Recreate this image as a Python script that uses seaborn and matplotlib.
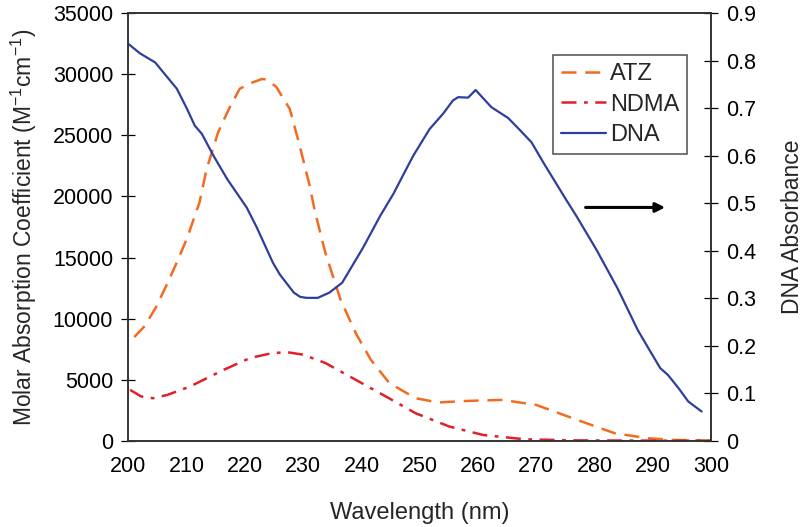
import numpy as np
import pandas as pd
import matplotlib
matplotlib.use('Agg')
import matplotlib.pyplot as plt
import seaborn as sns

# wavelength (nm) / molar absorption coefficient
atz_wl = [201, 202.8, 204.8, 206.7, 208.4, 210.0, 212.2, 213.4, 215.4, 217.4, 219.1, 220.9,
          222.9, 223.7, 225.4, 226.6, 227.7, 229.4, 231.1, 232.0, 233.8, 236.4, 239.0, 241.6,
          244.8, 249.3, 253.2, 258.3, 264.2, 270.0, 273.9, 279.0, 283.5, 289.3, 293.8, 300]
atz_eps = [8500, 9400, 11000, 12900, 14700, 16500, 19500, 22200, 25250, 27300, 28800, 29250,
           29600, 29570, 28950, 28000, 27150, 24150, 20900, 18800, 15400, 11570, 8840, 6650,
           4730, 3500, 3150, 3280, 3360, 2950, 2270, 1390, 630, 220, 80, 50]

ndma_wl = [200.3, 202.2, 204.2, 206.7, 210.6, 216.4, 220.9, 224.8, 227.4, 230.0, 233.8, 239.0,
           244.2, 249.3, 255.1, 260.9, 268.0, 277, 290, 300]
ndma_eps = [4180, 3640, 3500, 3770, 4460, 5830, 6790, 7200, 7250, 7060, 6380, 5010,
            3640, 2270, 1180, 490, 140, 50, 30, 20]

dna_wl = [200, 202, 204.6, 206, 208.3, 210, 211.4, 212.6, 214.6, 217, 220.3, 222, 224.8, 226,
          228.4, 229.5, 230.6, 232.5, 234.5, 236.7, 238.5, 240.3, 243.2, 245.5, 247.4, 248.9,
          251.7, 254, 255.7, 256.6, 258.3, 259.6, 262.3, 265.2, 267.5, 269.2, 271.2, 273,
          275.1, 276.9, 280.3, 284, 287.4, 289.5, 291.3, 292.6, 294.5, 296.1, 298.4]
dna_abs = [0.835, 0.815, 0.796, 0.775, 0.741, 0.70, 0.663, 0.646, 0.600, 0.55, 0.491, 0.45,
           0.375, 0.35, 0.312, 0.303, 0.301, 0.301, 0.312, 0.333, 0.37, 0.407, 0.473, 0.52,
           0.565, 0.600, 0.656, 0.688, 0.716, 0.723, 0.722, 0.738, 0.702, 0.679, 0.65, 0.628,
           0.586, 0.55, 0.508, 0.473, 0.403, 0.32, 0.234, 0.19, 0.153, 0.139, 0.11, 0.083, 0.062]

sns.set_style('white')
plt.rcParams['font.family'] = ['Liberation Sans', 'DejaVu Sans']
plt.rcParams['mathtext.default'] = 'regular'

df_atz = pd.DataFrame({'wl': atz_wl, 'val': atz_eps})
df_ndma = pd.DataFrame({'wl': ndma_wl, 'val': ndma_eps})
df_dna = pd.DataFrame({'wl': dna_wl, 'val': dna_abs})

fig = plt.figure(figsize=(8.03, 5.27), dpi=100)
ax = fig.add_axes([128.4 / 803, 1 - 441 / 527, (711 - 128.4) / 803, (441 - 13) / 527])
ax2 = ax.twinx()

sns.lineplot(data=df_atz, x='wl', y='val', ax=ax, color='#F26B21', lw=1.8,
             linestyle=(0, (6, 3.5)), label='ATZ')
sns.lineplot(data=df_ndma, x='wl', y='val', ax=ax, color='#E0202A', lw=1.8,
             linestyle=(0, (6, 3, 1.5, 3)), label='NDMA')
sns.lineplot(data=df_dna, x='wl', y='val', ax=ax2, color='#2E3F9B', lw=1.6, label='DNA')

ax.set_xlim(200, 300)
ax.set_ylim(0, 35000)
ax2.set_ylim(0, 0.9)
ax.set_xticks(np.arange(200, 301, 10))
ax.set_yticks(np.arange(0, 35001, 5000))
ax2.set_yticks(np.arange(0, 0.91, 0.1))
ax2.set_yticklabels(['0'] + [f'{v:.1f}' for v in np.arange(0.1, 0.91, 0.1)])

for a in (ax, ax2):
    a.tick_params(direction='inout', length=10, width=0.9, labelsize=15.5, colors='black', pad=6)
    for s in a.spines.values():
        s.set_color('#333333')
        s.set_linewidth(1.2)

ax.set_xlabel('Wavelength (nm)', fontsize=17, labelpad=18)
ax.set_ylabel('Molar Absorption Coefficient (M$^{-1}$cm$^{-1}$)', fontsize=16.5, labelpad=10)
ax2.set_ylabel('DNA Absorbance', fontsize=16.5, labelpad=18)

# arrow pointing to the right axis
ax.annotate('', xy=(292.6, 19100), xytext=(278.0, 19100),
            arrowprops=dict(arrowstyle='-|>', color='black', lw=2.2, mutation_scale=14))

h1, l1 = ax.get_legend_handles_labels()
h2, l2 = ax2.get_legend_handles_labels()
ax.get_legend().remove()
ax2.get_legend().remove()
leg = fig.legend(h1 + h2, l1 + l2, loc='upper left', bbox_to_anchor=(553 / 803, 1 - 55 / 527),
                 fontsize=17, frameon=True, fancybox=False, handlelength=1.9,
                 handletextpad=0.15, borderpad=0.35, labelspacing=0.35, borderaxespad=0)
leg.get_frame().set_edgecolor('#333333')
leg.get_frame().set_linewidth(1.2)

fig.savefig('out.png', dpi=100)
